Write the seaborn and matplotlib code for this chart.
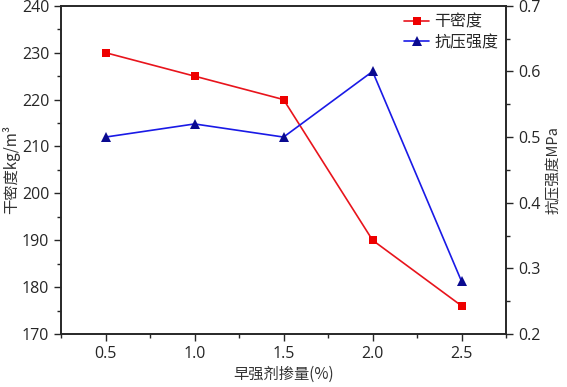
import matplotlib
matplotlib.use("Agg")
import matplotlib.pyplot as plt
import seaborn as sns
import pandas as pd
from matplotlib.ticker import MultipleLocator

dosage = [0.5, 1.0, 1.5, 2.0, 2.5]
dry_density = [230, 225, 220, 190, 176]
strength = [0.50, 0.52, 0.50, 0.60, 0.28]

sns.set_style("ticks")
plt.rcParams['font.family'] = ['Noto Sans CJK SC', 'DejaVu Sans']

df = pd.DataFrame({'x': dosage, 'density': dry_density, 'strength': strength})

fig = plt.figure(figsize=(5.67, 3.87), dpi=100)
ax = fig.add_axes([0.1076, 0.137, 0.785, 0.848])
ax2 = ax.twinx()

sns.lineplot(data=df, x='x', y='density', ax=ax, color='#e8141c', marker='s',
             markersize=6, markeredgewidth=0, markerfacecolor='#ee0000', lw=1.2,
             label='干密度', legend=False)
sns.lineplot(data=df, x='x', y='strength', ax=ax2, color='#1a1ae6', marker='^',
             markersize=7, markeredgewidth=0, markerfacecolor='#0a0a90', lw=1.2,
             label='抗压强度', legend=False)

ax.set_xlim(0.25, 2.75)
ax.set_ylim(170, 240)
ax2.set_ylim(0.2, 0.7)
ax.set_xticks(dosage)
ax.xaxis.set_minor_locator(MultipleLocator(0.25))
ax.yaxis.set_major_locator(MultipleLocator(10))
ax.yaxis.set_minor_locator(MultipleLocator(5))
ax2.yaxis.set_major_locator(MultipleLocator(0.1))
ax2.yaxis.set_minor_locator(MultipleLocator(0.05))

for a in (ax, ax2):
    a.tick_params(which='major', direction='out', length=5, width=1, labelsize=11.5)
    a.tick_params(which='minor', direction='out', length=3, width=1)
    for lbl in a.get_xticklabels() + a.get_yticklabels():
        lbl.set_family(['Open Sans', 'DejaVu Sans'])
    for s in a.spines.values():
        s.set_linewidth(1.2)
        s.set_visible(True)

ax.set_xlabel('早强剂掺量(%)', fontsize=11, color='#333333', labelpad=3)
ax.set_ylabel('干密度kg/m³', fontsize=11, color='#333333', labelpad=1)
ax2.set_ylabel('抗压强度MPa', fontsize=10.5, color='#333333', labelpad=5)

h1, l1 = ax.get_legend_handles_labels()
h2, l2 = ax2.get_legend_handles_labels()
ax.legend(h1 + h2, l1 + l2, loc='upper right', frameon=False, fontsize=11.5,
          handlelength=1.6, borderaxespad=0.1, labelspacing=0.2, handletextpad=0.3)

fig.savefig('out.png', dpi=100)
